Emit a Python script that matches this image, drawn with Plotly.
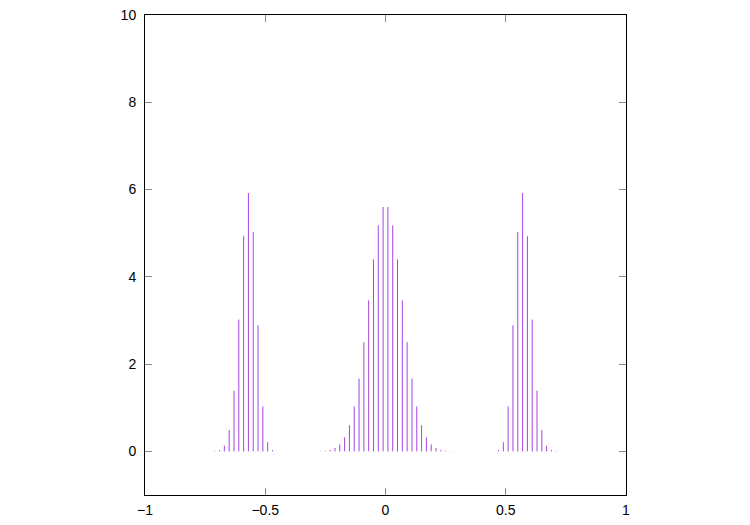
import plotly.graph_objects as go

# Impulse positions and heights
left_x = [-0.71, -0.69, -0.67, -0.65, -0.63, -0.61, -0.59, -0.57, -0.55, -0.53, -0.51, -0.49, -0.47]
left_y = [0.01, 0.03, 0.13, 0.49, 1.39, 3.02, 4.93, 5.92, 5.03, 2.89, 1.03, 0.21, 0.03]

center_x = [-0.29, -0.27, -0.25, -0.23, -0.21, -0.19, -0.17, -0.15, -0.13, -0.11,
            -0.09, -0.07, -0.05, -0.03, -0.01, 0.01, 0.03, 0.05, 0.07, 0.09,
            0.11, 0.13, 0.15, 0.17, 0.19, 0.21, 0.23, 0.25, 0.27, 0.29]
center_y = [0.003, 0.007, 0.015, 0.03, 0.08, 0.16, 0.32, 0.60, 1.03, 1.67,
            2.50, 3.46, 4.40, 5.18, 5.60, 5.60, 5.18, 4.40, 3.46, 2.50,
            1.67, 1.03, 0.60, 0.32, 0.16, 0.08, 0.03, 0.015, 0.007, 0.003]

right_x = [0.47, 0.49, 0.51, 0.53, 0.55, 0.57, 0.59, 0.61, 0.63, 0.65, 0.67, 0.69, 0.71]
right_y = [0.03, 0.21, 1.03, 2.89, 5.03, 5.92, 4.93, 3.02, 1.39, 0.49, 0.13, 0.03, 0.01]

x_ticks = [-1, -0.5, 0, 0.5, 1]
x_tick_text = ["\u22121", "\u22120.5", "0", "0.5", "1"]
y_ticks = [0, 2, 4, 6, 8, 10]

all_x = left_x + center_x + right_x
all_y = left_y + center_y + right_y

xs, ys = [], []
for xv, yv in zip(all_x, all_y):
    xs += [xv, xv, None]
    ys += [0, yv, None]

fig = go.Figure()
fig.add_trace(go.Scatter(x=xs, y=ys, mode="lines",
                         line=dict(color="#a545e6", width=1),
                         showlegend=False, hoverinfo="skip"))

axis_common = dict(showline=True, linecolor="black", linewidth=1,
                   mirror="ticks", ticks="inside", ticklen=7,
                   tickcolor="#888888", tickwidth=1,
                   showgrid=False, zeroline=False, automargin=False,
                   ticklabeloverflow="allow",
                   tickfont=dict(family="Liberation Sans, Arial, sans-serif",
                                 size=14, color="black"))

fig.update_xaxes(range=[-1, 1], tickvals=x_ticks, ticktext=x_tick_text,
                 ticklabelstandoff=2, **axis_common)
fig.update_yaxes(range=[-1, 10], tickvals=y_ticks, ticklabelstandoff=5, **axis_common)

# The page body has an 8px margin, so the margins are offset to place the
# plot frame where it is in the reference.
fig.update_layout(width=750, height=525,
                  margin=dict(l=137, r=132, t=7, b=38),
                  plot_bgcolor="white", paper_bgcolor="white")

fig.write_html("out.html")
